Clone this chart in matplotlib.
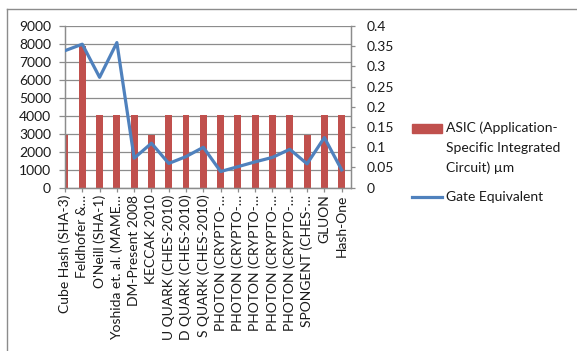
import matplotlib.pyplot as plt
from matplotlib.lines import Line2D
from matplotlib.patches import Rectangle
import numpy as np

plt.rcParams['font.family'] = ['Lato', 'DejaVu Sans']

# Data
designs = ['Cube Hash (SHA-3)', 'Feldhofer &\u2026', "O'Neill (SHA-1)",
           'Yoshida et. al. (MAME\u2026', 'DM-Present 2008', 'KECCAK 2010',
           'U QUARK (CHES-2010)', 'D QUARK (CHES-2010)', 'S QUARK (CHES-2010)',
           'PHOTON (CRYPTO-\u2026', 'PHOTON (CRYPTO-\u2026', 'PHOTON (CRYPTO-\u2026',
           'PHOTON (CRYPTO-\u2026', 'PHOTON (CRYPTO-\u2026', 'SPONGENT (CHES-\u2026',
           'GLUON', 'Hash-One']
asic_um = [2930, 7880, 4050, 4050, 4050, 2930, 4050, 4050, 4050,
           4050, 4050, 4050, 4050, 4050, 2930, 4050, 4050]
gate_equiv = [0.339, 0.355, 0.273, 0.359, 0.073, 0.110, 0.060, 0.077, 0.100,
              0.040, 0.052, 0.064, 0.075, 0.095, 0.059, 0.124, 0.044]
right_labels = ['0', '0.05', '0.1', '0.15', '0.2', '0.25', '0.3', '0.35', '0.4']
legend_bar = ['ASIC (Application-', 'Specific Integrated', 'Circuit) \u00b5m']
legend_line = 'Gate Equivalent'

bar_color = '#C0504D'
line_color = '#4F81BD'
grid_color = '#8C8C8C'
text_color = '#1A1A1A'
fs = 10

x = np.arange(len(designs))

fig = plt.figure(figsize=(5.77, 3.51), dpi=100)
W, H = 577, 351
ax = fig.add_axes([65 / W, 1 - 187.7 / H, (351 - 65) / W, (187.7 - 26) / H])
ax2 = ax.twinx()

ax.bar(x, asic_um, width=0.4, color=bar_color, zorder=2)
ax2.plot(x, gate_equiv, color=line_color, lw=2.3, zorder=3)

ax.set_xlim(0, 16.54)
ax.set_ylim(0, 9000)
ax.set_yticks(np.arange(0, 9001, 1000))
ax2.set_ylim(0, 0.4)
ax2.set_yticks(np.arange(0, 0.401, 0.05))
ax2.set_yticklabels(right_labels)

ax.set_xticks(x)
ax.set_xticklabels(designs, rotation=90, ha='center', va='top')
ax.grid(axis='y', color=grid_color, lw=0.9, zorder=0)
ax.set_axisbelow(True)

for a in (ax, ax2):
    for s in a.spines.values():
        s.set_color(grid_color)
        s.set_linewidth(0.9)
    a.spines['top'].set_visible(False)
    a.tick_params(colors=grid_color, labelcolor=text_color, labelsize=fs, width=0.9)

ax.tick_params(axis='y', length=4, pad=6)
ax.tick_params(axis='x', length=3, pad=2)
ax2.tick_params(axis='y', length=3, pad=8)
ax2.set_zorder(ax.get_zorder() + 1)
ax2.patch.set_visible(False)

# legend, laid out like the Excel one
fig.add_artist(Rectangle((412 / W, 1 - 133 / H), 30 / W, 9 / H, color=bar_color,
                         transform=fig.transFigure))
for i, txt in enumerate(legend_bar):
    fig.text(446 / W, 1 - (128 + 20 * i) / H, txt, fontsize=fs, color=text_color,
             va='center', ha='left')
fig.add_artist(Line2D([412 / W, 442 / W], [1 - 196.7 / H, 1 - 196.7 / H],
                      color=line_color, lw=2.3, transform=fig.transFigure))
fig.text(446 / W, 1 - 197 / H, legend_line, fontsize=fs, color=text_color,
         va='center', ha='left')

# chart area border (top and left edges visible)
fig.add_artist(Line2D([7 / W, 1], [1 - 9 / H, 1 - 9 / H], color=grid_color,
                      lw=1, transform=fig.transFigure))
fig.add_artist(Line2D([7 / W, 7 / W], [0, 1 - 9 / H], color=grid_color,
                      lw=1, transform=fig.transFigure))

plt.savefig('out.png', dpi=100)
